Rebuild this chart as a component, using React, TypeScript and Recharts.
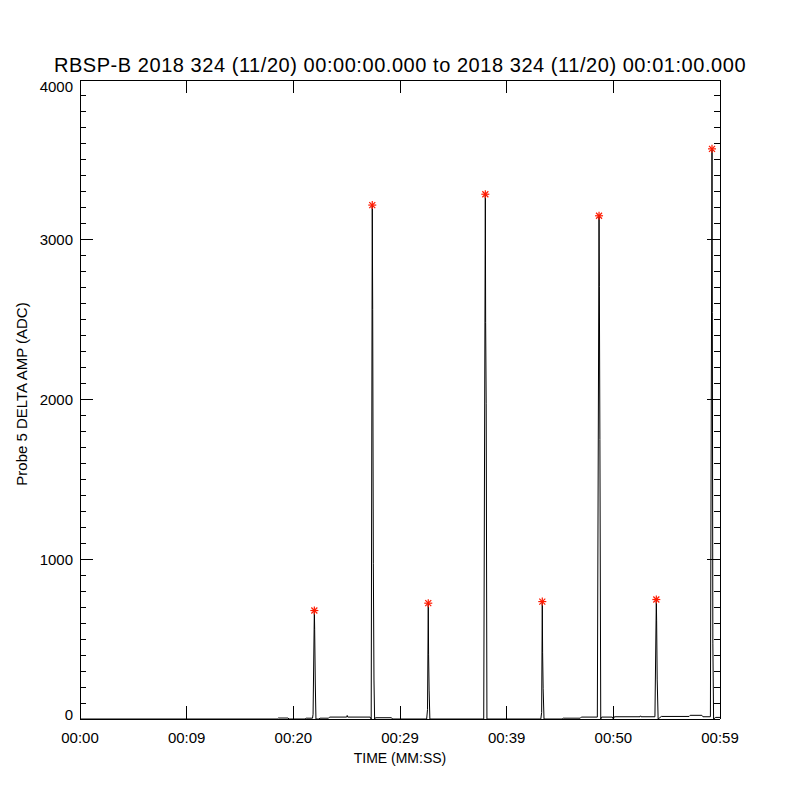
import { ComposedChart, Line, Scatter, XAxis, YAxis } from 'recharts'

// Probe 5 delta amplitude samples (seconds after 00:00:00, ADC counts)
const times = [
  0, 18.5, 18.6, 19.5, 19.6, 21.1, 21.2, 21.8, 21.85, 21.97, 22.0, 22.06, 22.12,
  22.4, 22.5, 23.3, 23.4, 25.0, 25.05, 25.1, 27.2, 27.3, 27.4, 27.44, 27.5, 27.56, 27.62,
  27.7, 29.2, 29.3, 32.5, 32.58, 32.65, 32.68, 32.73, 32.8,
  37.85, 38.0, 38.03, 38.08, 38.15,
  43.2, 43.28, 43.34, 43.37, 43.42, 43.5,
  45.2, 45.3, 46.9, 47.0, 48.5, 48.66, 48.69, 48.74, 48.82, 48.9, 49.9, 50.0, 50.1,
  52.5, 52.55, 52.6, 53.9, 54.03, 54.06, 54.11, 54.2, 54.3, 54.5,
  57.1, 57.2, 58.3, 58.4, 59.1, 59.25, 59.28, 59.33, 59.4, 59.6, 60,
]
const amps = [
  0, 0, 6, 6, 0, 0, 5, 5, 30, 679, 562, 219, 0,
  0, 5, 5, 12, 12, 22, 12, 12, 0, 3217, 2563, 975, 244, 0,
  8, 8, 0, 0, 60, 725, 406, 181, 0,
  0, 3285, 2483, 1977, 0,
  0, 40, 735, 414, 189, 0,
  0, 5, 5, 12, 12, 3150, 2706, 1750, 0, 12, 12, 0, 14,
  14, 20, 14, 14, 748, 614, 250, 0, 5, 16,
  16, 23, 23, 14, 14, 3569, 2544, 475, 0, 10, 10,
]

// detected peaks (red asterisks)
const peakTimes = [21.97, 27.4, 32.65, 38.0, 43.34, 48.66, 54.03, 59.25]
const peakAmps = [679, 3217, 725, 3285, 735, 3150, 748, 3569]

const xTicks = [0, 10, 20, 30, 40, 50, 60]
const xTickLabels = ['00:00', '00:09', '00:20', '00:29', '00:39', '00:50', '00:59']
const yMajor = [0, 1000, 2000, 3000, 4000]
const yTicks = Array.from({ length: 41 }, (_, i) => i * 100)

const TITLE = 'RBSP-B 2018 324 (11/20) 00:00:00.000 to 2018 324 (11/20) 00:01:00.000'
const FONT = '"Liberation Sans", Arial, sans-serif'

const series = times.map((t, i) => ({ t, v: amps[i] }))
const peaks = peakTimes.map((t, i) => ({ t, v: peakAmps[i] }))

function BottomTick({ x, y, payload }: any) {
  const label = xTickLabels[xTicks.indexOf(payload.value)]
  return (
    <g>
      <line x1={x} y1={y} x2={x} y2={y - 13} stroke="#000" shapeRendering="crispEdges" />
      <text x={x} y={y + 18} textAnchor="middle" dominantBaseline="central"
        fontSize={15} fontFamily={FONT} fill="#000">{label}</text>
    </g>
  )
}

function TopTick({ x, y }: any) {
  return <line x1={x} y1={y} x2={x} y2={y + 13} stroke="#000" shapeRendering="crispEdges" />
}

function LeftTick({ x, y, payload }: any) {
  const major = yMajor.includes(payload.value)
  const shift = payload.value === 0 ? -5 : payload.value === 4000 ? 6 : 0
  return (
    <g>
      <line x1={x} y1={y} x2={x + (major ? 13 : 6)} y2={y} stroke="#000" shapeRendering="crispEdges" />
      {major && (
        <text x={x - 7} y={y + shift} textAnchor="end" dominantBaseline="central"
          fontSize={15} fontFamily={FONT} fill="#000">{payload.value}</text>
      )}
    </g>
  )
}

function RightTick({ x, y, payload }: any) {
  const major = yMajor.includes(payload.value)
  return <line x1={x} y1={y} x2={x - (major ? 13 : 6)} y2={y} stroke="#000" shapeRendering="crispEdges" />
}

function Asterisk({ cx, cy }: any) {
  const r = 4
  const d = 3
  return (
    <g stroke="#ff1a00" strokeWidth={1.2}>
      <line x1={cx - r} y1={cy} x2={cx + r} y2={cy} />
      <line x1={cx} y1={cy - r} x2={cx} y2={cy + r} />
      <line x1={cx - d} y1={cy - d} x2={cx + d} y2={cy + d} />
      <line x1={cx - d} y1={cy + d} x2={cx + d} y2={cy - d} />
    </g>
  )
}

const axisLine = { stroke: '#000', shapeRendering: 'crispEdges' }

export default function App() {
  return (
    <div style={{ position: 'absolute', left: 0, top: 0, width: 800, height: 800, background: '#fff' }}>
      <div style={{
        position: 'absolute', left: 0, top: 54, width: 800, textAlign: 'center',
        fontFamily: FONT, fontSize: 20, letterSpacing: 0.55, lineHeight: '22px', color: '#000',
      }}>{TITLE}</div>
      <div style={{
        position: 'absolute', left: 0, top: 750, width: 800, textAlign: 'center',
        fontFamily: FONT, fontSize: 14, lineHeight: '16px', color: '#000',
      }}>TIME (MM:SS)</div>
      <div style={{
        position: 'absolute', left: 22, top: 394, width: 0, height: 0,
      }}>
        <div style={{
          position: 'absolute', left: -150, top: -8, width: 300, textAlign: 'center',
          transform: 'rotate(-90deg)', fontFamily: FONT, fontSize: 15, lineHeight: '16px', color: '#000',
          whiteSpace: 'nowrap',
        }}>Probe 5 DELTA AMP (ADC)</div>
      </div>
      <ComposedChart width={800} height={800} margin={{ top: 60, right: 60, bottom: 51, left: 20 }}>
        <XAxis dataKey="t" type="number" domain={[0, 60]} ticks={xTicks} interval={0}
          height={30} tickSize={0} tickMargin={0} axisLine={axisLine} tick={<BottomTick />}
          allowDataOverflow />
        <XAxis xAxisId="top" orientation="top" dataKey="t" type="number" domain={[0, 60]}
          ticks={xTicks} interval={0} height={20} tickSize={0} tickMargin={0}
          axisLine={axisLine} tick={<TopTick />} allowDataOverflow />
        <YAxis type="number" domain={[0, 4000]} ticks={yTicks} interval={0} width={60}
          tickSize={0} tickMargin={0} axisLine={axisLine} tick={<LeftTick />} allowDataOverflow />
        <YAxis yAxisId="right" orientation="right" type="number" domain={[0, 4000]} ticks={yTicks}
          interval={0} width={20} tickSize={0} tickMargin={0} axisLine={axisLine}
          tick={<RightTick />} allowDataOverflow />
        <Line data={series} dataKey="v" type="linear" stroke="#000" strokeWidth={1}
          dot={false} activeDot={false} isAnimationActive={false} />
        <Scatter data={peaks} dataKey="v" shape={<Asterisk />} isAnimationActive={false} />
      </ComposedChart>
    </div>
  )
}
